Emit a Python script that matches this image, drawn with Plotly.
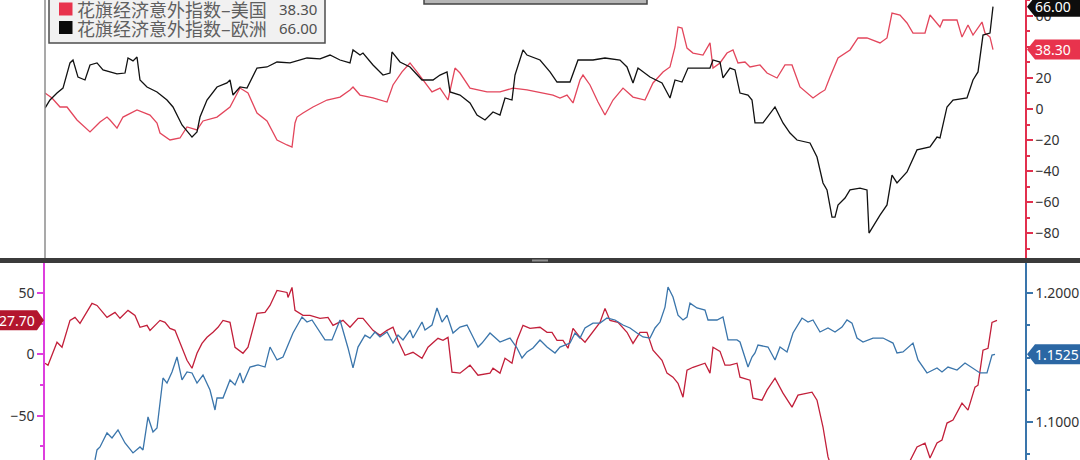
import plotly.graph_objects as go

# ---------------- data ----------------
# top panel: Citi economic surprise indices (right axis)
eu_days = [0,5,12,18,25,28,33,40,45,52,
           58,65,72,80,83,88,92,95,102,112,
           122,128,137,147,152,155,162,172,182,185,
           188,195,202,212,222,232,245,262,275,285,
           295,305,308,315,318,328,338,345,347,355,
           365,377,388,395,402,405,415,425,432,440,
           448,455,460,467,470,478,482,495,505,512,
           525,533,548,560,575,582,588,593,605,617,
           625,630,637,643,665,668,675,678,685,690,
           695,703,707,710,718,730,738,745,752,765,
           772,778,782,787,790,793,800,805,815,822,
           824,835,842,847,852,862,872,885,892,895,
           898,902,908,922,928,933,938,945,948]
eu_vals = [0.6,5.8,10.3,13.5,29.7,31.6,20.6,18.7,28.4,29.7,
           25.2,23.9,22.6,23.2,32.9,31.0,33.5,18.7,14.2,11.0,
           5.8,1.3,-10.3,-18.1,-14.8,-5.2,5.8,14.2,16.8,18.7,
           9.0,14.2,13.5,26.4,27.1,30.3,29.7,32.9,32.3,34.8,
           31.6,29.7,38.1,34.8,36.1,28.4,21.9,23.2,36.8,30.3,
           27.1,18.7,18.7,21.9,23.9,11.0,9.0,3.9,-3.9,-7.1,
           -1.9,-3.9,7.1,5.8,21.9,38.1,34.8,31.6,23.9,17.4,
           17.4,31.6,31.6,32.9,31.6,27.1,16.8,26.4,20.6,16.8,
           7.1,18.7,17.4,26.4,26.4,31.6,30.3,20.0,26.4,25.2,
           10.3,9.0,5.8,-9.0,-9.0,1.3,-9.0,-15.5,-20.0,-21.9,
           -31.0,-47.7,-52.2,-69.7,-69.7,-61.9,-57.4,-52.2,-51.0,-52.2,
           -80.0,-68.4,-61.9,-42.6,-47.7,-40.6,-26.4,-24.5,-18.1,-18.7,
           -10.3,1.3,5.8,7.1,18.7,23.9,47.7,49.0,66.0]

us_days = [0,7,15,22,32,45,52,55,62,65,
           72,75,78,92,105,112,115,125,135,142,
           152,158,172,185,195,203,212,222,232,242,
           247,250,252,258,268,282,295,305,308,315,
           328,342,348,357,365,372,382,387,395,403,
           410,415,425,442,455,468,482,498,508,515,
           522,528,535,538,545,553,560,568,578,588,
           600,608,618,625,630,633,637,642,648,658,
           665,668,675,682,688,693,700,705,715,722,
           732,740,747,755,768,775,780,785,793,805,
           813,822,835,842,847,855,862,868,880,885,
           895,898,912,917,923,928,937,940,945,948]
us_vals = [10.3,7.1,1.3,1.3,-7.1,-14.8,-10.3,-8.4,-5.2,-7.1,
           -12.3,-8.4,-5.2,-0.6,-3.9,-9.0,-15.5,-20.0,-18.7,-11.6,
           -13.5,-7.7,-5.2,1.3,13.5,10.3,-2.6,-7.7,-20.0,-23.2,
           -24.5,-9.0,-5.2,-2.6,1.3,5.8,7.7,12.3,14.2,9.0,
           7.1,4.5,15.5,23.9,29.7,23.9,15.5,11.0,13.5,5.8,
           26.4,23.2,13.5,11.0,11.0,13.5,12.3,10.3,9.0,7.1,
           9.0,3.9,18.7,21.9,15.5,4.5,-3.9,5.8,13.5,7.7,
           5.8,16.8,23.9,27.1,40.0,52.9,52.2,39.3,36.1,34.8,
           42.6,26.4,29.7,36.1,38.1,29.7,30.3,27.1,28.4,23.2,
           20.0,28.4,28.4,14.2,7.1,10.3,12.3,20.6,32.9,38.1,
           45.8,45.8,42.6,45.8,61.9,60.6,55.5,49.0,49.0,60.6,
           52.9,57.4,57.4,46.4,54.2,47.7,56.1,49.0,46.4,38.3]

# bottom panel: spread (left axis) and FX rate (right axis)
spread_days = [0,3,12,17,25,30,35,47,52,62,
               70,75,83,90,95,102,105,115,120,125,
               130,135,142,147,152,157,162,168,173,178,
               185,190,198,203,212,220,225,232,242,243,
               247,250,258,265,275,283,288,298,305,313,
               318,328,335,342,348,353,360,368,377,383,
               393,398,403,407,415,425,433,445,448,455,
               460,467,472,478,485,495,502,507,512,518,
               523,528,535,540,547,555,560,565,573,582,
               588,595,602,608,617,622,628,633,638,642,
               648,660,665,668,675,680,685,692,695,705,
               708,717,722,730,738,747,753,767,772,778,
               783,790,815,845,860,867,872,880,885,892,
               897,902,908,917,923,930,933,938,943,947,
               952]
spread_vals = [-7.3,-8.9,9.8,5.7,27.6,30.1,25.2,41.5,39.8,30.1,
               34.1,29.3,35.8,31.7,22.0,23.6,19.5,27.6,26.0,21.1,
               19.5,9.8,-4.9,-11.4,0.8,8.9,13.8,17.9,22.0,27.6,
               26.0,5.7,0.8,5.7,33.3,34.1,39.8,52.0,50.4,46.3,
               54.5,35.8,31.7,31.7,29.3,30.1,23.6,27.6,22.0,29.3,
               29.3,19.5,15.4,19.5,22.0,11.4,-0.8,1.6,-3.3,5.7,
               13.0,11.4,13.8,-14.6,-15.4,-8.9,-17.1,-15.4,-11.4,-15.4,
               -3.3,-7.3,11.4,23.6,21.1,22.0,17.9,17.9,11.4,11.4,
               4.9,21.1,13.8,9.8,17.1,26.0,37.4,27.6,26.0,17.9,
               8.9,17.9,17.9,3.3,-4.9,-15.4,-18.7,-23.6,-35.0,-13.0,
               -10.6,-7.3,-15.4,5.7,2.4,-8.9,-8.9,-7.3,-18.7,-21.1,
               -35.8,-37.4,-29.3,-19.5,-31.7,-43.1,-33.3,-30.9,-37.4,-59.3,
               -83.7,-100.0,-110.0,-105.0,-95.0,-83.7,-75.6,-72.4,-84.6,-72.4,
               -69.9,-56.1,-53.7,-39.8,-45.5,-26.8,-25.2,3.3,4.9,26.0,
               27.7]

fx_days = [48,50,52,55,62,67,73,80,88,95,
           98,103,108,112,118,122,127,132,137,142,
           147,152,158,165,170,172,178,185,190,195,
           198,205,213,220,225,232,238,248,257,262,
           267,272,280,287,295,303,308,313,320,325,
           330,335,342,348,353,358,365,368,377,380,
           387,392,397,402,408,415,422,428,433,437,
           445,455,465,472,477,482,488,495,502,510,
           515,525,530,535,540,548,555,562,570,578,
           585,592,598,605,610,615,620,623,628,633,
           638,642,645,652,660,663,672,678,683,692,
           695,703,707,710,713,723,730,735,742,748,
           757,763,768,775,783,790,797,802,807,812,
           818,828,838,848,852,858,868,873,882,892,
           897,903,912,920,928,935,942,947,950]
fx_vals = [1.0660,1.0705,1.0783,1.0806,1.0915,1.0876,1.0938,1.0837,1.0760,1.0806,
           1.0783,1.1039,1.0922,1.0953,1.1341,1.1302,1.1388,1.1504,1.1326,1.1388,
           1.1380,1.1302,1.1364,1.1248,1.1093,1.1186,1.1186,1.1326,1.1287,1.1380,
           1.1302,1.1426,1.1442,1.1426,1.1581,1.1481,1.1504,1.1690,1.1814,1.1775,
           1.1791,1.1729,1.1636,1.1636,1.1791,1.1574,1.1419,1.1581,1.1674,1.1651,
           1.1698,1.1659,1.1698,1.1612,1.1674,1.1636,1.1713,1.1651,1.1775,1.1713,
           1.1752,1.1884,1.1775,1.1829,1.1690,1.1736,1.1752,1.1659,1.1581,1.1612,
           1.1690,1.1620,1.1651,1.1574,1.1496,1.1543,1.1574,1.1636,1.1581,1.1535,
           1.1581,1.1612,1.1690,1.1651,1.1729,1.1767,1.1767,1.1806,1.1791,1.1752,
           1.1729,1.1690,1.1659,1.1651,1.1729,1.1775,1.1891,1.2047,1.1969,1.1829,
           1.1791,1.1814,1.1922,1.1884,1.1868,1.1791,1.1791,1.1814,1.1636,1.1636,
           1.1620,1.1426,1.1504,1.1535,1.1597,1.1581,1.1481,1.1581,1.1543,1.1690,
           1.1806,1.1775,1.1791,1.1698,1.1729,1.1698,1.1736,1.1791,1.1767,1.1651,
           1.1620,1.1651,1.1651,1.1612,1.1535,1.1543,1.1612,1.1481,1.1380,1.1419,
           1.1388,1.1426,1.1403,1.1457,1.1419,1.1380,1.1380,1.1519,1.1525]

us_name = "花旗经济意外指数–美国"
eu_name = "花旗经济意外指数–欧洲"

top_ticks_dtick = 20
bl_ticks_dtick = 50
br_ticks_dtick = 0.1

# ---------------- layout helpers ----------------
W, H = 1080, 460
def px_x(p):
    return p / W
def px_y(p):
    return 1 - p / H

X_DOM = [px_x(45), px_x(1025)]
TOP_DOM = [px_y(258), 1.0]
BOT_DOM = [0.0, px_y(263)]
TOP_RANGE = [-96.1, 70.3]
BL_RANGE = [-86.2, 74.4]
BR_RANGE = [1.0705, 1.2233]

RED_TOP = "#e3465c"
RED_BOT = "#c21f3a"
BLUE = "#3a75ab"
MAGENTA = "#dd3fdd"
AX_RED = "#e2304e"
TICKFONT = dict(family="Noto Sans, DejaVu Sans", size=14, color="#333333")

fig = go.Figure()
fig.add_trace(go.Scatter(x=us_days, y=us_vals, mode="lines", name=us_name,
                         line=dict(color=RED_TOP, width=1.3), xaxis="x", yaxis="y"))
fig.add_trace(go.Scatter(x=eu_days, y=eu_vals, mode="lines", name=eu_name,
                         line=dict(color="#111111", width=1.3), xaxis="x", yaxis="y"))
fig.add_trace(go.Scatter(x=spread_days, y=spread_vals, mode="lines",
                         line=dict(color=RED_BOT, width=1.3), xaxis="x2", yaxis="y2"))
fig.add_trace(go.Scatter(x=fx_days, y=fx_vals, mode="lines",
                         line=dict(color=BLUE, width=1.3), xaxis="x2", yaxis="y3"))

def yax(domain, rng, side, color, dtick, minor_dtick, anchor, fmt=None, tick0=0, overlaying=None):
    d = dict(domain=domain, range=rng, side=side, anchor=anchor, automargin=False,
             showline=True, linecolor=color, linewidth=1.5,
             ticks="outside", ticklen=6, tickwidth=2, tickcolor=color,
             dtick=dtick, tick0=tick0, tickfont=TICKFONT,
             minor=dict(ticks="outside", ticklen=3, tickwidth=1.5, tickcolor=color,
                        dtick=minor_dtick, tick0=tick0, showgrid=False),
             showgrid=False, zeroline=False, fixedrange=True)
    if fmt:
        d["tickformat"] = fmt
    if overlaying:
        d["overlaying"] = overlaying
    return d

fig.update_layout(
    width=W, height=H, margin=dict(l=0, r=0, t=0, b=0, pad=0, autoexpand=False),
    paper_bgcolor="white", plot_bgcolor="white", showlegend=False,
    xaxis=dict(domain=X_DOM, range=[0, 980], visible=False, anchor="y", automargin=False),
    xaxis2=dict(domain=X_DOM, range=[0, 980], visible=False, anchor="y2", matches="x",
                automargin=False),
    yaxis=yax(TOP_DOM, TOP_RANGE, "right", AX_RED, top_ticks_dtick, 10, "x"),
    yaxis2=yax(BOT_DOM, BL_RANGE, "left", MAGENTA, bl_ticks_dtick, 25, "x2"),
    yaxis3=yax(BOT_DOM, BR_RANGE, "right", BLUE, br_ticks_dtick, 0.025, "x2",
               fmt=".4f", tick0=1.0, overlaying="y2"),
)

shapes = []
annots = []

# left grey border of the top panel
shapes.append(dict(type="line", xref="paper", yref="paper", x0=X_DOM[0], x1=X_DOM[0],
                   y0=TOP_DOM[0], y1=1, line=dict(color="#8c8c8c", width=1.5)))
# separator bar
shapes.append(dict(type="rect", xref="paper", yref="paper", x0=0, x1=1,
                   y0=px_y(263), y1=px_y(258), fillcolor="#3b3b3b", line=dict(width=0)))
shapes.append(dict(type="rect", xref="paper", yref="paper", x0=px_x(532), x1=px_x(548),
                   y0=px_y(261.5), y1=px_y(259.5), fillcolor="#8f8f8f", line=dict(width=0)))
# grey title tab (cut at top)
shapes.append(dict(type="rect", xref="paper", yref="paper", x0=px_x(424), x1=px_x(647),
                   y0=px_y(4), y1=px_y(-4), fillcolor="#b6b6b6", line=dict(color="#444444", width=1.5)))
# legend box
shapes.append(dict(type="rect", xref="paper", yref="paper", x0=px_x(49), x1=px_x(325),
                   y0=px_y(43), y1=px_y(-6), fillcolor="#f1f1f1", line=dict(color="#4d4d4d", width=1.5)))
legend_rows = [(us_name, us_vals[-1], "#e8334d", 9), (eu_name, eu_vals[-1], "#0a0a0a", 27.5)]
for name, val, col, cy in legend_rows:
    shapes.append(dict(type="rect", xref="paper", yref="paper", x0=px_x(59), x1=px_x(72.5),
                       y0=px_y(cy + 6.5), y1=px_y(cy - 6.5), fillcolor=col, line=dict(width=0)))
    annots.append(dict(xref="paper", yref="paper", x=px_x(75), y=px_y(cy), text=name,
                       showarrow=False, xanchor="left", yanchor="middle",
                       font=dict(family="Noto Sans CJK SC", size=18, color="#606060")))
    annots.append(dict(xref="paper", yref="paper", x=px_x(319), y=px_y(cy), text=f"{val:.2f}",
                       showarrow=False, xanchor="right", yanchor="middle",
                       font=dict(family="Noto Sans, DejaVu Sans", size=15, color="#505050")))

def val_to_paper(v, rng, dom):
    return dom[0] + (v - rng[0]) / (rng[1] - rng[0]) * (dom[1] - dom[0])

def callout(v, rng, dom, color, text, side):
    yc = val_to_paper(v, rng, dom)
    h = 10 / H
    if side == "right":
        tip, b0, b1 = px_x(1027), px_x(1035), px_x(1085)
        path = (f"M {tip},{yc} L {b0},{yc + h} L {b1},{yc + h} "
                f"L {b1},{yc - h} L {b0},{yc - h} Z")
        tx, anchor = px_x(1033), "left"
    else:
        tip, b0, b1 = px_x(44), px_x(37), px_x(-5)
        path = (f"M {tip},{yc} L {b0},{yc + h} L {b1},{yc + h} "
                f"L {b1},{yc - h} L {b0},{yc - h} Z")
        tx, anchor = px_x(37), "right"
    shapes.append(dict(type="path", xref="paper", yref="paper", path=path,
                       fillcolor=color, line=dict(width=0), layer="above"))
    annots.append(dict(xref="paper", yref="paper", x=tx, y=yc, text=text, showarrow=False,
                       xanchor=anchor, yanchor="middle",
                       font=dict(family="Noto Sans, DejaVu Sans", size=14, color="white")))

callout(eu_vals[-1], TOP_RANGE, TOP_DOM, "#0d0d0d", f"{eu_vals[-1]:.2f}", "right")
callout(us_vals[-1], TOP_RANGE, TOP_DOM, "#e8334d", f"{us_vals[-1]:.2f}", "right")
callout(spread_vals[-1], BL_RANGE, BOT_DOM, "#b3162e", f"{spread_vals[-1]:.2f}", "left")
callout(fx_vals[-1], BR_RANGE, BOT_DOM, "#2b67a4", f"{fx_vals[-1]:.4f}", "right")

fig.update_layout(shapes=shapes, annotations=annots)
fig.write_html("out.html", config={"displayModeBar": False},
               post_script="document.body.style.margin='0';document.body.style.overflow='hidden';")
